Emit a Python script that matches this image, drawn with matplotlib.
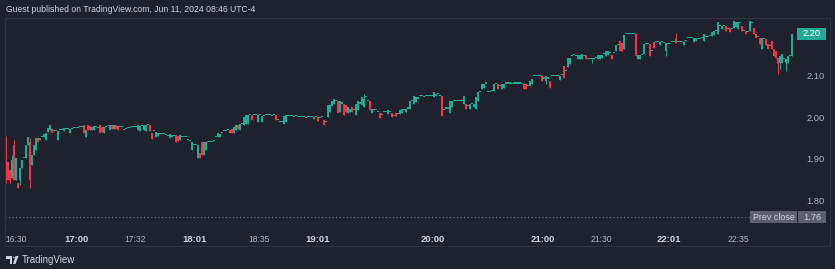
import numpy as np
import matplotlib
matplotlib.use("Agg")
import matplotlib.pyplot as plt
from matplotlib.patches import Rectangle, Polygon, Circle
from matplotlib.transforms import blended_transform_factory

# ---------------- data (1-minute candles) ----------------
opens = [
    1.950, 1.893, 1.874, 1.855, 1.933, 1.850, 1.843, 1.850, 1.879, 1.902,
    1.902, 1.933, 1.940, 1.886, 1.910, 1.921, 1.950, 1.945, 1.952, 1.952,
    1.945, 1.964, 1.969, 1.971, 1.967, 1.967, 1.945, 1.969, 1.969, 1.967,
    1.971, 1.971, 1.962, 1.971, 1.974, 1.974, 1.974, 1.976, 1.976, 1.981,
    1.952, 1.981, 1.979, 1.969, 1.969, 1.976, 1.974, 1.981, 1.976, 1.962,
    1.976, 1.979, 1.969, 1.981, 1.971, 1.981, 1.979, 1.976, 1.976, 1.969,
    1.971, 1.974, 1.974, 1.976, 1.976, 1.976, 1.969, 1.967, 1.979, 1.969,
    1.967, 1.981, 1.981, 1.962, 1.967, 1.952, 1.955, 1.960, 1.960, 1.960,
    1.957, 1.955, 1.950, 1.952, 1.955, 1.957, 1.955, 1.945, 1.952, 1.952,
    1.952, 1.945, 1.943, 1.921, 1.933, 1.933, 1.902, 1.914, 1.940, 1.910,
    1.921, 1.940, 1.940, 1.940, 1.943, 1.952, 1.952, 1.952, 1.962, 1.967,
    1.967, 1.969, 1.969, 1.971, 1.962, 1.969, 1.981, 1.969, 1.983, 1.981,
    1.983, 1.983, 2.005, 2.005, 2.005, 2.005, 1.988, 2.005, 1.988, 2.002,
    2.005, 2.005, 2.005, 2.002, 2.005, 2.005, 1.993, 1.988, 1.988, 1.983,
    1.988, 2.002, 2.002, 2.002, 2.000, 2.002, 2.000, 2.000, 2.000, 2.000,
    1.998, 2.000, 2.000, 2.000, 1.995, 2.000, 2.000, 1.998, 2.000, 1.993,
    1.988, 2.000, 2.012, 2.026, 2.033, 2.040, 2.040, 2.012, 2.033, 2.033,
    2.029, 2.010, 2.012, 2.024, 2.017, 2.005, 2.017, 2.033, 2.029, 2.024,
    2.048, 2.040, 2.040, 2.010, 2.017, 2.017, 2.012, 2.010, 2.005, 2.012,
    2.012, 2.007, 2.012, 2.010, 2.002, 2.010, 2.007, 2.007, 2.010, 2.017,
    2.012, 2.021, 2.021, 2.040, 2.031, 2.036, 2.045, 2.050, 2.050, 2.048,
    2.050, 2.050, 2.052, 2.052, 2.048, 2.050, 2.055, 2.052, 2.052, 2.017,
    2.021, 2.021, 2.010, 2.024, 2.040, 2.040, 2.040, 2.040, 2.040, 2.033,
    2.033, 2.026, 2.021, 2.031, 2.024, 2.021, 2.040, 2.060, 2.069, 2.071,
    2.081, 2.060, 2.060, 2.062, 2.062, 2.079, 2.081, 2.074, 2.069, 2.071,
    2.081, 2.081, 2.081, 2.079, 2.081, 2.081, 2.081, 2.081, 2.079, 2.081,
    2.079, 2.074, 2.076, 2.079, 2.098, 2.100, 2.100, 2.100, 2.100, 2.093,
    2.088, 2.093, 2.088, 2.098, 2.100, 2.100, 2.098, 2.090, 2.102, 2.124,
    2.112, 2.121, 2.129, 2.148, 2.150, 2.148, 2.140, 2.140, 2.140, 2.148,
    2.150, 2.140, 2.140, 2.140, 2.140, 2.143, 2.140, 2.140, 2.143, 2.152,
    2.148, 2.150, 2.155, 2.150, 2.155, 2.160, 2.174, 2.183, 2.179, 2.164,
    2.200, 2.200, 2.200, 2.200, 2.200, 2.200, 2.140, 2.140, 2.150, 2.152,
    2.176, 2.176, 2.176, 2.160, 2.181, 2.181, 2.181, 2.174, 2.181, 2.179,
    2.160, 2.176, 2.176, 2.181, 2.181, 2.190, 2.181, 2.181, 2.181, 2.174,
    2.183, 2.190, 2.190, 2.190, 2.181, 2.183, 2.188, 2.188, 2.190, 2.183,
    2.193, 2.193, 2.195, 2.195, 2.198, 2.207, 2.200, 2.219, 2.212, 2.219,
    2.219, 2.212, 2.214, 2.212, 2.214, 2.217, 2.212, 2.226, 2.219, 2.207,
    2.207, 2.205, 2.207, 2.226, 2.214, 2.200, 2.193, 2.190, 2.164, 2.188,
    2.188, 2.176, 2.171, 2.183, 2.164, 2.160, 2.143, 2.131, 2.131, 2.140,
    2.131, 2.131, 2.148, 2.148,
]
closes = [
    1.862, 1.850, 1.850, 1.898, 1.850, 1.902, 1.831, 1.879, 1.898, 1.902,
    1.933, 1.952, 1.850, 1.910, 1.933, 1.950, 1.940, 1.950, 1.952, 1.960,
    1.962, 1.974, 1.981, 1.962, 1.967, 1.967, 1.967, 1.969, 1.969, 1.974,
    1.971, 1.971, 1.971, 1.971, 1.974, 1.974, 1.974, 1.976, 1.976, 1.962,
    1.969, 1.969, 1.969, 1.976, 1.979, 1.976, 1.974, 1.962, 1.964, 1.976,
    1.976, 1.979, 1.981, 1.971, 1.981, 1.971, 1.969, 1.976, 1.976, 1.969,
    1.971, 1.974, 1.974, 1.976, 1.976, 1.976, 1.981, 1.979, 1.979, 1.981,
    1.981, 1.981, 1.967, 1.948, 1.967, 1.964, 1.962, 1.960, 1.960, 1.960,
    1.957, 1.955, 1.960, 1.957, 1.955, 1.940, 1.943, 1.957, 1.952, 1.952,
    1.952, 1.945, 1.943, 1.940, 1.933, 1.933, 1.933, 1.902, 1.910, 1.940,
    1.940, 1.940, 1.940, 1.940, 1.943, 1.952, 1.962, 1.960, 1.962, 1.967,
    1.967, 1.969, 1.962, 1.962, 1.976, 1.981, 1.971, 1.983, 1.983, 2.000,
    2.005, 2.005, 2.005, 1.993, 2.005, 2.005, 2.005, 2.005, 2.002, 2.002,
    2.005, 2.005, 2.005, 2.002, 2.005, 1.993, 1.993, 1.988, 1.988, 2.002,
    2.005, 2.002, 2.002, 2.002, 2.000, 2.002, 2.000, 2.000, 2.000, 2.000,
    1.998, 2.000, 2.000, 2.000, 2.000, 2.000, 1.990, 1.998, 2.000, 1.981,
    1.988, 2.029, 2.029, 2.040, 2.043, 2.040, 2.010, 2.038, 2.033, 2.005,
    2.012, 2.024, 2.021, 2.012, 2.017, 2.033, 2.040, 2.033, 2.048, 2.045,
    2.048, 2.040, 2.017, 2.021, 2.017, 2.017, 2.012, 1.998, 2.005, 2.012,
    2.012, 2.017, 2.012, 2.000, 2.002, 2.002, 2.007, 2.017, 2.021, 2.017,
    2.021, 2.021, 2.038, 2.040, 2.050, 2.048, 2.045, 2.050, 2.050, 2.048,
    2.050, 2.050, 2.052, 2.052, 2.060, 2.057, 2.055, 2.052, 2.002, 2.017,
    2.021, 2.021, 2.040, 2.038, 2.040, 2.040, 2.040, 2.040, 2.040, 2.052,
    2.021, 2.026, 2.033, 2.031, 2.031, 2.048, 2.060, 2.060, 2.079, 2.081,
    2.081, 2.060, 2.060, 2.062, 2.081, 2.079, 2.069, 2.074, 2.081, 2.079,
    2.081, 2.081, 2.081, 2.079, 2.081, 2.081, 2.081, 2.081, 2.079, 2.069,
    2.069, 2.074, 2.088, 2.093, 2.098, 2.100, 2.100, 2.100, 2.088, 2.093,
    2.100, 2.093, 2.071, 2.098, 2.100, 2.100, 2.098, 2.100, 2.102, 2.095,
    2.112, 2.143, 2.143, 2.148, 2.150, 2.148, 2.150, 2.150, 2.152, 2.148,
    2.140, 2.140, 2.140, 2.140, 2.140, 2.143, 2.150, 2.150, 2.150, 2.152,
    2.160, 2.160, 2.155, 2.140, 2.155, 2.174, 2.174, 2.160, 2.160, 2.198,
    2.200, 2.200, 2.200, 2.200, 2.200, 2.148, 2.150, 2.150, 2.150, 2.176,
    2.176, 2.176, 2.148, 2.160, 2.167, 2.181, 2.181, 2.181, 2.181, 2.179,
    2.179, 2.176, 2.176, 2.181, 2.181, 2.179, 2.181, 2.181, 2.181, 2.181,
    2.183, 2.190, 2.190, 2.190, 2.190, 2.190, 2.188, 2.188, 2.190, 2.200,
    2.193, 2.193, 2.195, 2.205, 2.207, 2.207, 2.229, 2.219, 2.219, 2.219,
    2.207, 2.212, 2.205, 2.212, 2.231, 2.229, 2.229, 2.226, 2.207, 2.207,
    2.200, 2.205, 2.231, 2.226, 2.200, 2.190, 2.193, 2.176, 2.190, 2.188,
    2.174, 2.164, 2.171, 2.164, 2.148, 2.143, 2.129, 2.148, 2.152, 2.140,
    2.140, 2.148, 2.148, 2.200,
]
# bars with visible wicks beyond the body
wick_high = {0: 1.955, 3: 1.910, 4: 1.945, 12: 1.950, 179: 2.055, 335: 2.202}
wick_low = {0: 1.843, 2: 1.843, 7: 1.838, 12: 1.831, 270: 2.081, 293: 2.131,
            330: 2.148, 386: 2.105, 387: 2.117, 390: 2.112}

time_labels = ["16:30", "17:00", "17:32", "18:01", "18:35", "19:01",
               "20:00", "21:00", "21:30", "22:01", "22:35"]
time_label_bars = [5, 35, 64.5, 94.5, 126.5, 156, 213.5, 268.5, 297.5, 331.5, 366]
time_label_major = [False, True, False, True, False, True, True, True, False, True, False]

price_ticks = [1.80, 1.90, 2.00, 2.10]
last_price = 2.20
prev_close = 1.76
title = "Guest published on TradingView.com, Jun 11, 2024 08:46 UTC-4"

# ---------------- style ----------------
BG = "#1e222d"
UP = "#22ab94"
DOWN = "#f23645"
BORDER = "#2f333e"
TXT = "#b2b5be"
TXT_BRIGHT = "#d1d4dc"
FONT = "Liberation Sans"

W, H = 835, 269
fig = plt.figure(figsize=(W / 100, H / 100), dpi=100, facecolor=BG)

def fx(px):
    return px / W

def fy(py):
    return 1 - py / H

pane_l, pane_r, pane_t, pane_b = 5, 798, 18, 228
ax = fig.add_axes([fx(pane_l), fy(pane_b), fx(pane_r - pane_l), (pane_b - pane_t) / H])
ax.set_facecolor(BG)
for s in ax.spines.values():
    s.set_visible(False)

o = np.array(opens)
c = np.array(closes)
n = len(o)
idx = np.arange(n)
hi = np.maximum(o, c)
lo = np.minimum(o, c)
highs = np.array([max(hi[i], wick_high.get(i, hi[i])) for i in range(n)])
lows = np.array([min(lo[i], wick_low.get(i, lo[i])) for i in range(n)])
colors = [UP if c[i] >= o[i] else DOWN for i in range(n)]

min_h = 0.0026
ax.vlines(idx, lows, highs, colors=colors, linewidth=0.7, zorder=2)
ax.bar(idx, np.maximum(hi - lo, min_h), bottom=lo, width=0.85,
       color=colors, linewidth=0, zorder=3)

ax.set_xlim(-0.5, 396)
ax.set_ylim(1.7343, 2.2383)

# prev close dotted line
ax.axhline(prev_close, color="#787b86", linewidth=0.8, linestyle=(0, (1, 2.2)), zorder=1)

# time axis
ax.set_xticks(time_label_bars)
ax.set_xticklabels(time_labels)
ax.tick_params(axis="x", length=0, pad=5.0, colors=TXT)
for lab, major in zip(ax.get_xticklabels(), time_label_major):
    lab.set_fontfamily(FONT)
    if major:
        lab.set_fontsize(6.8)
        lab.set_fontweight("bold")
        lab.set_color(TXT_BRIGHT)
    else:
        lab.set_fontsize(6.2)
        lab.set_color(TXT)

# price axis
ax.yaxis.tick_right()
ax.set_yticks(price_ticks)
ax.set_yticklabels([f"{p:.2f}" for p in price_ticks])
ax.tick_params(axis="y", length=0, pad=6.0, colors=TXT, labelsize=6.7)
for lab in ax.get_yticklabels():
    lab.set_fontfamily(FONT)

# price labels boxes (x in figure fraction, y in data)
tr = blended_transform_factory(fig.transFigure, ax.transData)
bh = 12 / 416.7  # 12 px tall
fig.add_artist(Rectangle((fx(797), last_price - bh / 2), fx(29), bh,
                         transform=tr, facecolor=UP, edgecolor="none", clip_on=False))
fig.text(fx(812), last_price, f"{last_price:.2f}", transform=tr, ha="center", va="center",
         color="white", fontsize=6.7, fontfamily=FONT)
fig.add_artist(Rectangle((fx(750), prev_close - bh / 2), fx(46.5), bh,
                         transform=tr, facecolor="#5d606b", edgecolor="none", clip_on=False))
fig.text(fx(773.5), prev_close, "Prev close", transform=tr, ha="center", va="center",
         color=TXT_BRIGHT, fontsize=6.4, fontfamily=FONT)
fig.add_artist(Rectangle((fx(798), prev_close - bh / 2), fx(28), bh,
                         transform=tr, facecolor="#5d606b", edgecolor="none", clip_on=False))
fig.text(fx(812), prev_close, f"{prev_close:.2f}", transform=tr, ha="center", va="center",
         color=TXT_BRIGHT, fontsize=6.7, fontfamily=FONT)

# frame lines
fig.add_artist(Rectangle((fx(5), fy(246)), fx(825), (246 - 18) / H, transform=fig.transFigure,
                         facecolor="none", edgecolor=BORDER, linewidth=0.8))

# title
fig.text(fx(6), fy(9), title, ha="left", va="center", color=TXT_BRIGHT,
         fontsize=6.2, fontfamily=FONT)

# TradingView logo + wordmark
logo_c = "#d1d4dc"
fig.add_artist(Polygon([[fx(6), fy(256)], [fx(12), fy(256)], [fx(12), fy(264)],
                        [fx(9.5), fy(264)], [fx(9.5), fy(258.5)], [fx(6), fy(258.5)]],
                       closed=True, transform=fig.transFigure, facecolor=logo_c, edgecolor="none"))
fig.add_artist(Circle((fx(13.8), fy(257.3)), 1.2 / W, transform=fig.transFigure,
                      facecolor=logo_c, edgecolor="none"))
fig.add_artist(Polygon([[fx(15.5), fy(256)], [fx(18.5), fy(256)], [fx(15.5), fy(264)], [fx(13), fy(264)]],
                       closed=True, transform=fig.transFigure, facecolor=logo_c, edgecolor="none"))
fig.text(fx(22), fy(260), "TradingView", ha="left", va="center", color=logo_c,
         fontsize=7.0, fontfamily=FONT)

fig.savefig("out.png", dpi=100, facecolor=BG)
